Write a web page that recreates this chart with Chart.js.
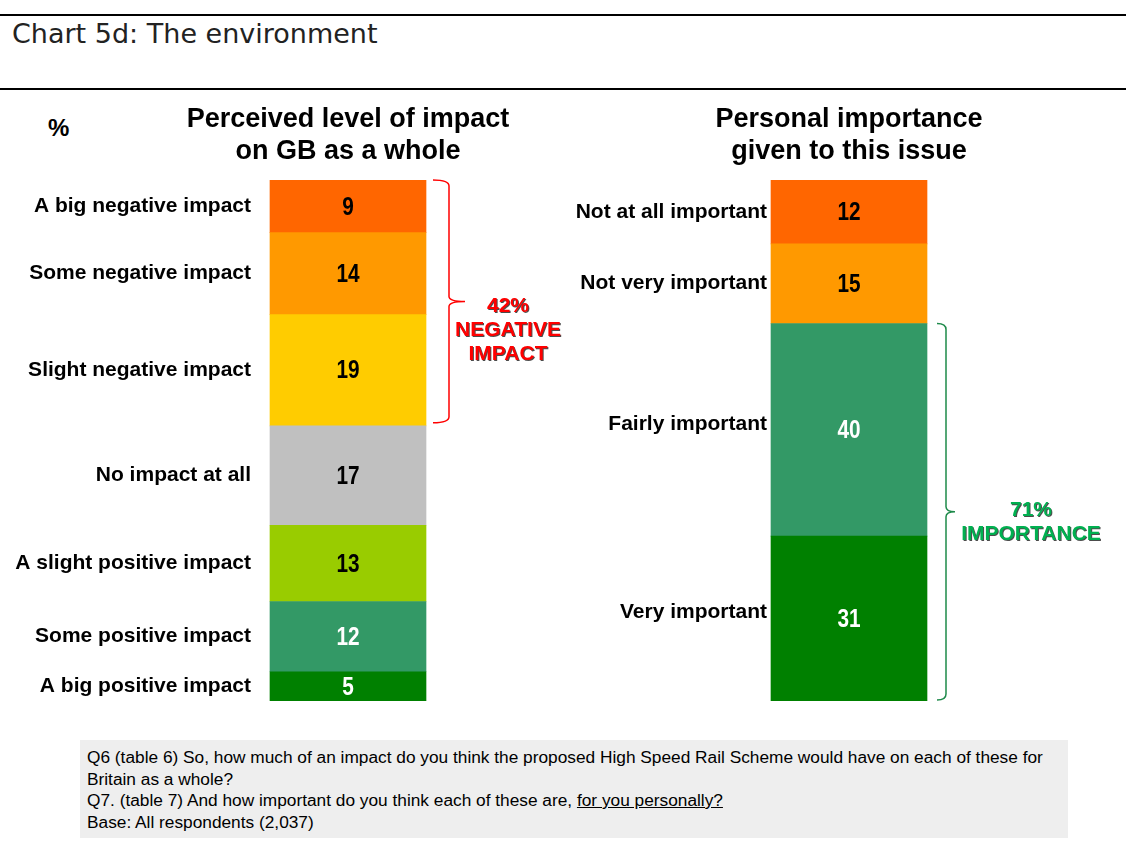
<!DOCTYPE html>
<html>
<head>
<meta charset="utf-8">
<script src="https://cdn.jsdelivr.net/npm/chart.js@4"></script>
<style>
  html, body { margin: 0; padding: 0; background: #fff; }
  body { width: 1126px; height: 868px; position: relative; overflow: hidden; }
  #chart { position: absolute; left: 0; top: 0; }
  .rule { position: absolute; left: 0; width: 1126px; height: 2px; background: #000; }
  #title { position: absolute; left: 12px; top: 20px; font-family: "DejaVu Sans", Verdana, sans-serif; font-size: 27px; line-height: 27px; color: #222; }
  #pct { position: absolute; left: 48px; top: 114px; font-family: "Liberation Sans", Arial, sans-serif; font-weight: bold; font-size: 24px; color: #000; }
  #note { position: absolute; left: 80px; top: 740px; width: 988px; height: 98px; background: #eeeeee;
          box-sizing: border-box; padding: 7px 0 0 7px; font-family: "Liberation Sans Narrow", "Arial Narrow", "Liberation Sans", sans-serif;
          font-size: 17.3px; line-height: 21.5px; color: #000; }
  #note u { text-decoration: underline; }
</style>
</head>
<body>
<div class="rule" style="top:14px"></div>
<div id="title">Chart 5d: The environment</div>
<div class="rule" style="top:88px"></div>
<div id="pct">%</div>
<canvas id="chart" width="1126" height="868"></canvas>
<div id="note">Q6 (table 6) So, how much of an impact do you think the proposed High Speed Rail Scheme would have on each of these for<br>Britain as a whole?<br>Q7. (table 7) And how important do you think each of these are, <u>for you personally?</u><br>Base: All respondents (2,037)</div>
<script>
// left bar, listed top to bottom
const impactLabels = ["A big negative impact", "Some negative impact", "Slight negative impact",
  "No impact at all", "A slight positive impact", "Some positive impact", "A big positive impact"];
const impactValues = [9, 14, 19, 17, 13, 12, 5];
const impactColors = ["#FF6600", "#FF9900", "#FFCC00", "#C0C0C0", "#99CC00", "#339966", "#008000"];
const impactText = ["#000", "#000", "#000", "#000", "#000", "#fff", "#fff"];

// right bar, listed top to bottom
const importanceLabels = ["Not at all important", "Not very important", "Fairly important", "Very important"];
const importanceValues = [12, 15, 40, 31];
const importanceColors = ["#FF6600", "#FF9900", "#339966", "#008000"];
const importanceText = ["#000", "#000", "#fff", "#fff"];

const headings = [["Perceived level of impact", "on GB as a whole"], ["Personal importance", "given to this issue"]];

const sum = (a) => a.reduce((s, v) => s + v, 0);
const impactTotal = sum(impactValues);
const importanceTotal = sum(importanceValues);
const negativeShare = sum(impactValues.slice(0, 3));
const importantShare = sum(importanceValues.slice(2));

const datasets = [];
for (let i = impactValues.length - 1; i >= 0; i--) {
  datasets.push({
    label: impactLabels[i],
    data: [impactValues[i] / impactTotal * 100, null],
    raw: impactValues[i], side: 0, textColor: impactText[i],
    backgroundColor: impactColors[i], stack: "s"
  });
}
for (let i = importanceValues.length - 1; i >= 0; i--) {
  datasets.push({
    label: importanceLabels[i],
    data: [null, importanceValues[i] / importanceTotal * 100],
    raw: importanceValues[i], side: 1, textColor: importanceText[i],
    backgroundColor: importanceColors[i], stack: "s"
  });
}

function drawBrace(ctx, x, hookX, tipX, top, bottom, tipY, color) {
  ctx.save();
  ctx.strokeStyle = color;
  ctx.lineWidth = 1.5;
  ctx.beginPath();
  ctx.moveTo(hookX, top);
  ctx.quadraticCurveTo(x, top, x, top + 6);
  ctx.lineTo(x, tipY - 5);
  ctx.quadraticCurveTo(x, tipY, tipX, tipY);
  ctx.moveTo(tipX, tipY);
  ctx.quadraticCurveTo(x, tipY, x, tipY + 5);
  ctx.lineTo(x, bottom - 6);
  ctx.quadraticCurveTo(x, bottom, hookX, bottom);
  ctx.stroke();
  ctx.restore();
}

function shadowText(ctx, lines, cx, y0, step, color) {
  ctx.save();
  ctx.font = "bold 21px 'Liberation Sans', Arial, sans-serif";
  ctx.textAlign = "center";
  ctx.textBaseline = "middle";
  ctx.shadowColor = "rgba(0,0,0,0.7)";
  ctx.shadowOffsetX = 1;
  ctx.shadowOffsetY = 1;
  ctx.shadowBlur = 0;
  ctx.fillStyle = color;
  lines.forEach((t, k) => ctx.fillText(t, cx, y0 + k * step));
  ctx.restore();
}

const annotate = {
  id: "annotate",
  afterDatasetsDraw(chart) {
    const ctx = chart.ctx;
    const y = chart.scales.y;
    const labelGap = [19, 4];
    const barEdges = [{}, {}];

    chart.data.datasets.forEach((ds, di) => {
      const bar = chart.getDatasetMeta(di).data[ds.side];
      const half = bar.width / 2;
      const mid = (bar.y + bar.base) / 2;
      barEdges[ds.side] = { left: bar.x - half, right: bar.x + half, cx: bar.x };

      // value, squeezed to look like a narrow bold face
      ctx.save();
      ctx.textBaseline = "middle";
      ctx.textAlign = "center";
      ctx.fillStyle = ds.textColor;
      ctx.font = "bold 26px 'Liberation Sans', Arial, sans-serif";
      ctx.translate(bar.x, mid + 1);
      ctx.scale(0.8, 1);
      ctx.fillText(String(ds.raw), 0, 0);
      ctx.restore();

      // category label; tall segments on the right have it set a little higher
      const lift = ds.side === 1 && bar.base - bar.y > 100 ? 6 : 0;
      ctx.save();
      ctx.textBaseline = "middle";
      ctx.textAlign = "right";
      ctx.fillStyle = "#000";
      ctx.font = "bold 21px 'Liberation Sans', Arial, sans-serif";
      ctx.fillText(ds.label, bar.x - half - labelGap[ds.side], mid - lift);
      ctx.restore();
    });

    // column headings
    ctx.save();
    ctx.font = "bold 27px 'Liberation Sans', Arial, sans-serif";
    ctx.textAlign = "center";
    ctx.textBaseline = "middle";
    ctx.fillStyle = "#000";
    headings.forEach((h, s) => {
      h.forEach((t, k) => ctx.fillText(t, barEdges[s].cx, 120 + k * 32));
    });
    ctx.restore();

    // negative bracket on the left bar
    const nTop = y.getPixelForValue(100);
    const nBot = y.getPixelForValue(100 - negativeShare / impactTotal * 100) - 3;
    const nTip = nTop + (nBot - nTop) * 0.5;
    const lr = barEdges[0].right;
    drawBrace(ctx, lr + 23, lr + 7, lr + 39, nTop, nBot, nTip, "#FF0000");
    shadowText(ctx, [negativeShare + "%", "NEGATIVE", "IMPACT"], lr + 82, nTip + 5, 24, "#FF0000");

    // importance bracket on the right bar
    const iTop = y.getPixelForValue(importantShare / importanceTotal * 100);
    const iBot = y.getPixelForValue(0) - 1;
    const iTip = iTop + (iBot - iTop) * 0.5;
    const rr = barEdges[1].right;
    drawBrace(ctx, rr + 19, rr + 10, rr + 28, iTop, iBot, iTip, "#1E8A4A");
    shadowText(ctx, [importantShare + "%", "IMPORTANCE"], rr + 104, iTip - 2, 24, "#00B050");
  }
};

new Chart(document.getElementById("chart"), {
  type: "bar",
  data: { labels: ["impact", "importance"], datasets },
  options: {
    responsive: false,
    animation: false,
    events: [],
    barThickness: 156,
    layout: { padding: { left: 97.5, right: 26.5, top: 180, bottom: 167 } },
    scales: {
      x: { display: false, stacked: true },
      y: { display: false, stacked: true, min: 0, max: 100 }
    },
    plugins: { legend: { display: false }, tooltip: { enabled: false } }
  },
  plugins: [annotate]
});
</script>
</body>
</html>
